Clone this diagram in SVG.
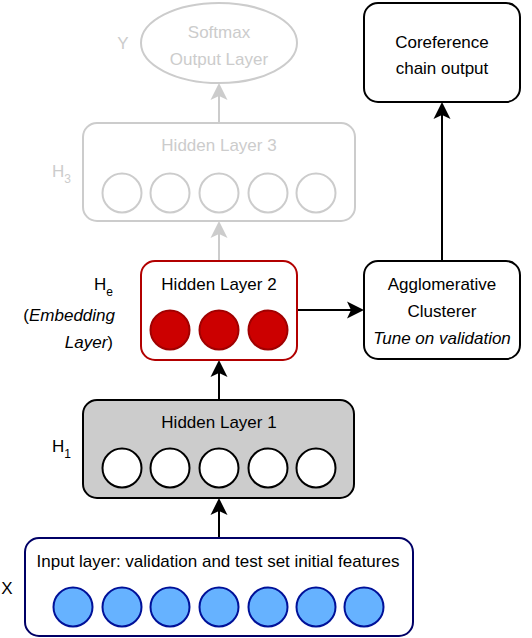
<svg xmlns="http://www.w3.org/2000/svg" width="532" height="638" viewBox="0 0 532 638">
<style>
text{font-family:"Liberation Sans",Arial,sans-serif;font-size:17px;fill:#000}
.c{text-anchor:middle}
.r{text-anchor:end}
.it{font-style:italic}
.g{fill:#cccccc}
.sub{font-size:12px}
.box{stroke-width:2}
.gline{stroke:#cccccc;stroke-width:2;fill:none}
.bline{stroke:#000;stroke-width:2;fill:none}
</style>
<defs>
<path id="ah" d="M0,0 L-8.5,17 L0,13 L8.5,17 Z"/>
</defs>
<g id="connectors">
<line class="gline" x1="219" y1="123" x2="219" y2="96"/>
<use href="#ah" x="219" y="83" fill="#cccccc"/>
<line class="gline" x1="219" y1="261" x2="219" y2="234"/>
<use href="#ah" x="219" y="221" fill="#cccccc"/>
<line class="bline" x1="219" y1="400" x2="219" y2="373"/>
<use href="#ah" x="219" y="360" fill="#000"/>
<line class="bline" x1="219" y1="538" x2="219" y2="511"/>
<use href="#ah" x="219" y="498" fill="#000"/>
<line class="bline" x1="297" y1="310" x2="351" y2="310"/>
<use href="#ah" transform="translate(364 310) rotate(90)" fill="#000"/>
<line class="bline" x1="442" y1="261" x2="442" y2="115"/>
<use href="#ah" x="442" y="102" fill="#000"/>
</g>
<g id="softmax">
<ellipse cx="219" cy="43" rx="78" ry="40" fill="#fff" stroke="#cccccc" stroke-width="2"/>
<text class="c g" x="219" y="38">Softmax</text>
<text class="c g" x="219" y="65">Output Layer</text>
<text class="c g" x="123" y="49">Y</text>
</g>
<g id="hidden3">
<rect x="83" y="123" width="272" height="98" rx="14" fill="#fff" stroke="#cccccc" stroke-width="2"/>
<text class="c g" x="219" y="151">Hidden Layer 3</text>
<g fill="#fff" stroke="#cccccc" stroke-width="2">
<circle cx="122" cy="193" r="19.5"/><circle cx="170" cy="193" r="19.5"/><circle cx="219" cy="193" r="19.5"/><circle cx="268" cy="193" r="19.5"/><circle cx="316" cy="193" r="19.5"/>
</g>
<text class="g" x="52" y="177">H<tspan class="sub" dy="6">3</tspan></text>
</g>
<g id="coref">
<rect x="364" y="3" width="156" height="99" rx="14" fill="#fff" stroke="#000" stroke-width="2"/>
<text class="c" x="442" y="48">Coreference</text>
<text class="c" x="442" y="74">chain output</text>
</g>
<g id="hidden2">
<rect x="141" y="261" width="156" height="99" rx="14" fill="#fff" stroke="#b20000" stroke-width="2"/>
<text class="c" x="219" y="290">Hidden Layer 2</text>
<g fill="#cc0000" stroke="#a00000" stroke-width="2">
<circle cx="170" cy="330" r="19.5"/><circle cx="219" cy="330" r="19.5"/><circle cx="268" cy="330" r="19.5"/>
</g>
<text class="r" x="113" y="290">H<tspan class="sub" dy="6">e</tspan></text>
<text class="r" x="115" y="321">(<tspan class="it">Embedding</tspan></text>
<text class="r" x="113" y="348"><tspan class="it">Layer</tspan>)</text>
</g>
<g id="cluster">
<rect x="364" y="261" width="156" height="98" rx="14" fill="#fff" stroke="#000" stroke-width="2"/>
<text class="c" x="442" y="290">Agglomerative</text>
<text class="c" x="442" y="317">Clusterer</text>
<text class="c it" x="442" y="344">Tune on validation</text>
</g>
<g id="hidden1">
<rect x="83" y="400" width="271" height="98" rx="14" fill="#cccccc" stroke="#000" stroke-width="2"/>
<text class="c" x="219" y="428">Hidden Layer 1</text>
<g fill="#fff" stroke="#000" stroke-width="2">
<circle cx="122" cy="468" r="19.5"/><circle cx="170" cy="468" r="19.5"/><circle cx="219" cy="468" r="19.5"/><circle cx="268" cy="468" r="19.5"/><circle cx="316" cy="468" r="19.5"/>
</g>
<text x="52" y="452">H<tspan class="sub" dy="6">1</tspan></text>
</g>
<g id="input">
<rect x="25" y="538" width="388" height="98" rx="14" fill="#fff" stroke="#000066" stroke-width="2"/>
<text class="c" x="218" y="567">Input layer: validation and test set initial features</text>
<g fill="#66b2ff" stroke="#001199" stroke-width="2">
<circle cx="73" cy="607" r="19.5"/><circle cx="122" cy="607" r="19.5"/><circle cx="170" cy="607" r="19.5"/><circle cx="219" cy="607" r="19.5"/><circle cx="268" cy="607" r="19.5"/><circle cx="316" cy="607" r="19.5"/><circle cx="364" cy="607" r="19.5"/>
</g>
<text class="c" x="7" y="594">X</text>
</g>
</svg>
